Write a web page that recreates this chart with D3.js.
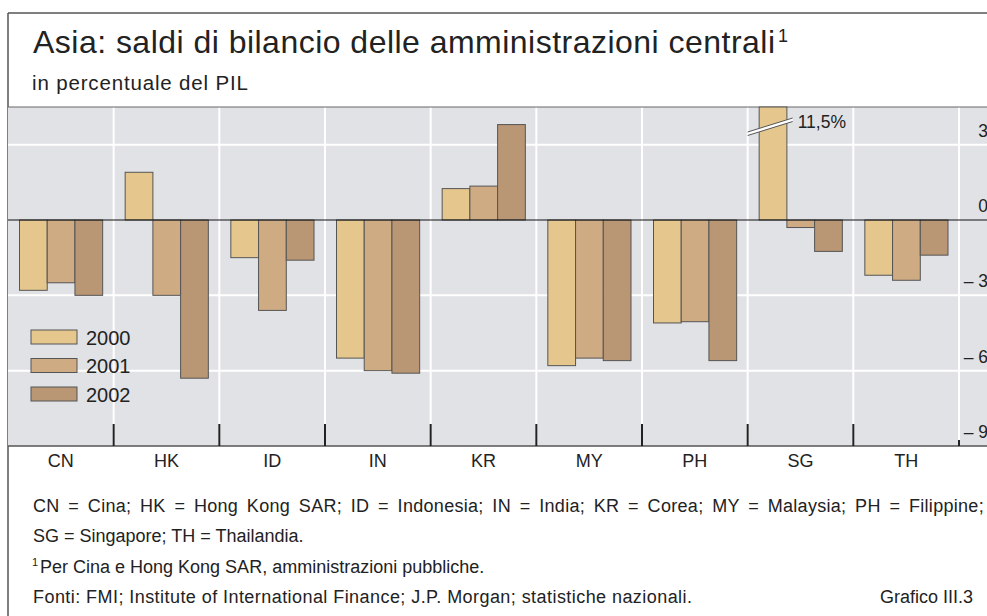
<!DOCTYPE html>
<html>
<head>
<meta charset="utf-8">
<script src="https://cdn.jsdelivr.net/npm/d3@7"></script>
<style>
  body { margin: 0; background: #fff; }
  svg { display: block; font-family: "Liberation Sans", Arial, sans-serif; }
  text { fill: #222; }
</style>
</head>
<body>
<svg width="987" height="616"></svg>
<script>
// data (percent of GDP)
const categories = ["CN", "HK", "ID", "IN", "KR", "MY", "PH", "SG", "TH"];
const years = ["2000", "2001", "2002"];
const values2000 = [-2.8, 1.9, -1.5, -5.5, 1.25, -5.8, -4.1, 11.5, -2.2];
const values2001 = [-2.5, -3.0, -3.6, -6.0, 1.35, -5.5, -4.05, -0.3, -2.4];
const values2002 = [-3.0, -6.3, -1.6, -6.1, 3.8, -5.6, -5.6, -1.25, -1.4];
const yTicks = [3, 0, -3, -6, -9];
const gridTicks = [3, -3, -6];
const colors = ["#e5c78d", "#cfab84", "#b99674"];

const svg = d3.select("svg");
const W = 987;
const plotLeft = 8, plotRight = 959, plotTop = 107, plotBottom = 446;

const series = [values2000, values2001, values2002];
const rows = categories.map((c, i) => ({
  cat: c,
  vals: years.map((yr, j) => ({ year: yr, value: series[j][i] }))
}));

const x = d3.scaleBand().domain(categories).range([plotLeft, plotRight]);
const xInner = d3.scaleBand().domain(years).range([11.5, x.bandwidth() - 11]);
const y = d3.scaleLinear().domain([-9, 4.5]).range([plotBottom, plotTop]);

// stretch a text line to a measured width (letter or word spacing)
function fit(sel, width, mode) {
  const node = sel.node();
  const len = node.getComputedTextLength();
  if (mode === "word") {
    const gaps = node.textContent.split(" ").length - 1;
    sel.attr("word-spacing", ((width - len) / gaps).toFixed(3));
  } else {
    const n = node.getNumberOfChars();
    sel.attr("letter-spacing", ((width - len) / (n - 1)).toFixed(3));
  }
}

// frame
svg.append("line").attr("x1", plotLeft).attr("x2", W).attr("y1", 13).attr("y2", 13)
  .attr("stroke", "#555").attr("stroke-width", 1.5);
svg.append("line").attr("x1", plotLeft).attr("x2", plotLeft).attr("y1", 13).attr("y2", 616)
  .attr("stroke", "#555").attr("stroke-width", 1.5);

// titles
const title = svg.append("text").attr("x", 33).attr("y", 53).attr("font-size", 32)
  .text("Asia: saldi di bilancio delle amministrazioni centrali");
fit(title, 742);
svg.append("text").attr("x", 778).attr("y", 42).attr("font-size", 18).text("1");
const sub = svg.append("text").attr("x", 32).attr("y", 90).attr("font-size", 20.5)
  .text("in percentuale del PIL");
fit(sub, 216);

// plot background
svg.append("rect").attr("x", plotLeft).attr("y", plotTop)
  .attr("width", W - plotLeft).attr("height", plotBottom - plotTop)
  .attr("fill", "#e1e2e6");

// grid
svg.append("g").selectAll("line").data(gridTicks).join("line")
  .attr("x1", plotLeft).attr("x2", W).attr("y1", d => y(d)).attr("y2", d => y(d))
  .attr("stroke", "#fff").attr("stroke-width", 2);
const bounds = categories.slice(1).map(c => x(c)).concat([plotRight]);
svg.append("g").selectAll("line").data(bounds).join("line")
  .attr("x1", d => d).attr("x2", d => d).attr("y1", plotTop).attr("y2", plotBottom)
  .attr("stroke", "#fff").attr("stroke-width", 2);

// top border of plot
svg.append("line").attr("x1", plotLeft).attr("x2", W).attr("y1", plotTop).attr("y2", plotTop)
  .attr("stroke", "#666").attr("stroke-width", 1);

// bars
const groups = svg.append("g").selectAll("g").data(rows).join("g")
  .attr("transform", d => `translate(${x(d.cat)},0)`);
groups.selectAll("rect").data(d => d.vals).join("rect")
  .attr("x", d => xInner(d.year))
  .attr("width", xInner.bandwidth())
  .attr("y", d => y(Math.min(Math.max(d.value, 0), 4.5)))
  .attr("height", d => Math.abs(y(Math.min(d.value, 4.5)) - y(0)))
  .attr("fill", (d, i) => colors[i])
  .attr("stroke", "#555").attr("stroke-width", 1);

// zero line
svg.append("line").attr("x1", plotLeft).attr("x2", W).attr("y1", y(0)).attr("y2", y(0))
  .attr("stroke", "#111").attr("stroke-width", 1.2);

// break on SG 2000 bar
const sgX = x("SG");
const brk = svg.append("g");
const bx1 = sgX, bx2 = sgX + 45, by1 = y(4.5) + 25, by2 = y(4.5) + 11;
brk.append("polygon")
  .attr("points", `${bx1},${by1} ${bx2},${by2} ${bx2},${by2 + 3.5} ${bx1},${by1 + 3.5}`)
  .attr("fill", "#fff");
brk.append("line").attr("x1", bx1).attr("y1", by1).attr("x2", bx2).attr("y2", by2)
  .attr("stroke", "#555").attr("stroke-width", 1);
brk.append("line").attr("x1", bx1).attr("y1", by1 + 3.5).attr("x2", bx2).attr("y2", by2 + 3.5)
  .attr("stroke", "#555").attr("stroke-width", 1);
svg.append("text").attr("x", sgX + 50).attr("y", y(4.5) + 21).attr("font-size", 17.5)
  .text("11,5%");

// bottom axis
svg.append("line").attr("x1", plotLeft).attr("x2", W).attr("y1", plotBottom).attr("y2", plotBottom)
  .attr("stroke", "#555").attr("stroke-width", 1.5);
svg.append("g").selectAll("line").data(bounds).join("line")
  .attr("x1", d => d).attr("x2", d => d)
  .attr("y1", (d, i) => i === bounds.length - 1 ? plotBottom - 6 : plotBottom - 22)
  .attr("y2", plotBottom)
  .attr("stroke", "#222").attr("stroke-width", 2);
svg.append("g").selectAll("text").data(categories).join("text")
  .attr("x", d => x(d) + x.bandwidth() / 2).attr("y", 467)
  .attr("text-anchor", "middle").attr("font-size", 18).text(d => d);

// right axis labels
svg.append("g").selectAll("text").data(yTicks).join("text")
  .attr("x", 988).attr("y", d => y(d) - 8)
  .attr("text-anchor", "end").attr("font-size", 17.5)
  .text(d => d < 0 ? "\u2013 " + Math.abs(d) : d);

// legend
const leg = svg.append("g").selectAll("g").data(years).join("g")
  .attr("transform", (d, i) => `translate(31,${330 + i * 28.5})`);
leg.append("rect").attr("width", 46).attr("height", 14)
  .attr("fill", (d, i) => colors[i]).attr("stroke", "#555").attr("stroke-width", 1);
leg.append("text").attr("x", 55).attr("y", 14.5).attr("font-size", 20).text(d => d);

// notes
const fs = 18;
const n1 = svg.append("text").attr("x", 33).attr("y", 512).attr("font-size", fs)
  .attr("letter-spacing", 0.3)
  .text("CN = Cina; HK = Hong Kong SAR; ID = Indonesia; IN = India; KR = Corea; MY = Malaysia; PH = Filippine;");
fit(n1, 951, "word");
svg.append("text").attr("x", 33).attr("y", 542).attr("font-size", fs)
  .text("SG = Singapore; TH = Thailandia.");
svg.append("text").attr("x", 32).attr("y", 566).attr("font-size", 11).text("1");
svg.append("text").attr("x", 40).attr("y", 573).attr("font-size", fs)
  .text("Per Cina e Hong Kong SAR, amministrazioni pubbliche.");
const n4 = svg.append("text").attr("x", 33).attr("y", 603).attr("font-size", fs)
  .text("Fonti: FMI; Institute of International Finance; J.P. Morgan; statistiche nazionali.");
fit(n4, 659);
svg.append("text").attr("x", 973).attr("y", 603).attr("text-anchor", "end").attr("font-size", fs)
  .text("Grafico III.3");
</script>
</body>
</html>
